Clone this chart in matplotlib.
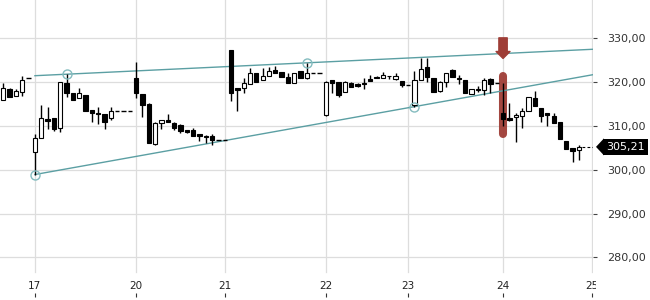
import matplotlib
matplotlib.use('Agg')
import matplotlib.pyplot as plt
import matplotlib.transforms as mtransforms
from matplotlib.patches import Polygon
import numpy as np

# OHLC of each candle, left to right (one candle per trading slot)
opens = [315.9, 318.4, 316.9, 317.8, 320.9, 304.1, 307.2, 311.6, 311.7, 309.5,
         319.9, 317.4, 316.3, 317.1, 313.6, 313.0, 312.7, 311.9, 313.3, 313.3,
         313.3, 321.0, 317.2, 315.0, 305.8, 310.6, 311.3, 310.6, 310.2, 309.0,
         309.1, 308.1, 307.6, 307.8, 306.8, 306.8, 327.3, 318.6, 318.6, 319.5,
         322.0, 320.5, 321.4, 322.8, 322.2, 321.1, 319.9, 322.6, 321.0, 322.0,
         322.0, 312.5, 320.5, 320.1, 317.7, 319.9, 319.5, 319.9, 320.6, 321.2,
         320.9, 321.4, 320.8, 320.3, 319.3, 314.8, 320.5, 323.4, 321.0, 318.0,
         320.0, 322.8, 321.0, 320.5, 317.2, 318.3, 318.2, 320.6, 319.9, 312.9,
         311.9, 312.0, 312.3, 313.5, 316.3, 314.0, 312.9, 312.3, 310.8, 306.6,
         304.9, 304.5]
highs = [319.7, 318.6, 318.4, 321.5, 320.9, 308.1, 314.8, 314.2, 311.9, 320.1,
         321.8, 317.6, 318.6, 317.1, 313.6, 314.2, 312.7, 314.4, 313.3, 313.3,
         313.3, 324.6, 317.2, 315.2, 311.0, 311.3, 312.7, 311.0, 310.4, 309.1,
         309.5, 308.1, 307.9, 308.1, 306.8, 306.8, 327.3, 318.6, 321.0, 323.2,
         322.0, 323.2, 323.5, 323.7, 322.3, 322.1, 322.0, 322.6, 324.4, 322.0,
         322.0, 320.3, 320.5, 320.1, 320.3, 320.1, 319.8, 320.9, 321.6, 321.3,
         322.2, 321.4, 322.0, 320.3, 319.3, 322.5, 325.4, 325.4, 321.0, 320.3,
         322.1, 322.9, 321.6, 320.5, 318.4, 319.0, 320.9, 320.9, 319.9, 319.8,
         315.2, 313.0, 314.0, 316.7, 318.0, 314.0, 312.9, 312.9, 310.8, 306.6,
         304.9, 305.6]
lows = [315.9, 316.5, 316.9, 316.9, 320.9, 298.9, 307.2, 309.2, 308.9, 308.7,
        316.7, 315.8, 316.3, 313.4, 310.8, 310.4, 309.4, 311.3, 313.3, 313.3,
        313.3, 316.3, 312.1, 306.2, 305.6, 309.3, 310.8, 309.1, 308.3, 308.3,
        307.8, 306.6, 306.0, 305.6, 306.8, 306.8, 315.7, 313.5, 317.4, 319.5,
        320.0, 320.5, 321.4, 322.0, 321.1, 319.9, 319.9, 320.9, 320.7, 322.0,
        322.0, 312.3, 317.4, 316.7, 317.7, 318.8, 318.9, 318.4, 320.3, 320.9,
        320.9, 320.6, 320.5, 318.8, 319.3, 314.4, 320.5, 320.1, 317.8, 317.8,
        318.9, 321.1, 319.6, 317.6, 317.2, 317.8, 317.1, 317.4, 319.9, 309.9,
        311.1, 306.4, 309.5, 313.5, 314.6, 311.0, 310.0, 310.7, 306.9, 304.7,
        301.8, 302.2]
closes = [318.7, 316.7, 318.0, 320.4, 320.9, 307.2, 311.7, 311.2, 309.2, 320.0,
          317.6, 315.8, 317.4, 313.4, 313.0, 312.7, 311.0, 313.4, 313.3, 313.3,
          313.3, 317.4, 314.8, 306.2, 310.6, 311.3, 311.0, 309.6, 308.8, 308.5,
          307.8, 307.8, 307.5, 306.8, 306.8, 306.8, 317.4, 318.2, 319.9, 322.0,
          320.0, 321.4, 322.5, 322.1, 321.1, 319.9, 322.0, 320.9, 322.0, 322.0,
          322.0, 320.1, 319.7, 317.1, 320.1, 318.9, 319.1, 319.6, 320.3, 320.9,
          321.6, 321.3, 321.5, 319.3, 319.3, 320.5, 322.9, 321.2, 317.8, 320.1,
          322.0, 321.1, 320.6, 317.6, 318.4, 318.4, 320.5, 319.6, 319.9, 311.5,
          311.3, 312.6, 313.4, 316.7, 314.6, 312.3, 312.5, 310.7, 306.9, 304.7,
          304.3, 305.21]

# x axis: candle index where each day starts
day_pos = [5, 21, 35, 51, 64, 79, 93]
day_labels = ['17', '20', '21', '22', '23', '24', '25']

y_ticks = [280, 290, 300, 310, 320, 330]

# trend line anchors (candle index, price)
upper_pts = [(10, 321.8), (48, 324.4)]
lower_pts = [(5, 298.9), (65, 314.4)]
line_start = 5

# signal candle highlight
signal_idx = 79
signal_range = (308.1, 321.5)
arrow_top, arrow_tip = 330.1, 325.4

last_price = closes[-1]

teal = '#5b9fa3'
grid_c = '#dddddd'
red = '#9e3d36'

fig = plt.figure(figsize=(6.5, 3), dpi=100)
ax = fig.add_axes([0, 3 / 300, 593 / 650, 297 / 300])
ax.set_xlim(-0.522, 93.22)
ax.set_ylim(270.94, 338.74)
for s in ax.spines.values():
    s.set_visible(False)

# grid
ax.set_yticks(y_ticks)
ax.yaxis.grid(True, color=grid_c, lw=0.9)
for p in day_pos:
    ax.axvline(p, ymin=0.085, ymax=1, color=grid_c, lw=0.9, zorder=0)
ax.set_axisbelow(True)

# highlight behind the signal candle
ax.plot([signal_idx, signal_idx], signal_range, color=red, lw=5.8,
        solid_capstyle='round', alpha=0.95, zorder=1)
ax.annotate('', xy=(signal_idx, arrow_tip), xytext=(signal_idx, arrow_top),
            arrowprops=dict(arrowstyle='simple,head_length=0.5,head_width=1.0,tail_width=0.6',
                            color=red, shrinkA=0, shrinkB=0), zorder=5)

# trend lines
xe = ax.get_xlim()[1]
for pts in (upper_pts, lower_pts):
    (x1, y1), (x2, y2) = pts
    k = (y2 - y1) / (x2 - x1)
    xs = np.array([line_start, xe])
    ax.plot(xs, y1 + k * (xs - x1), color=teal, lw=1.0, zorder=2)
    ax.plot([x1, x2], [y1, y2], 'o', ms=6.5, mfc='none', mec='#84bcbf', mew=1.0, zorder=6)

# candles
w = 0.68
for i, (o, h, l, c) in enumerate(zip(opens, highs, lows, closes)):
    if h > max(o, c):
        ax.vlines(i, max(o, c), h, color='black', lw=1.0, zorder=3)
    if l < min(o, c):
        ax.vlines(i, l, min(o, c), color='black', lw=1.0, zorder=3)
    if abs(c - o) < 0.05:
        ax.hlines(o, i - w / 2, i + w / 2, color='black', lw=1.0, zorder=4)
    elif c > o:
        ax.bar(i, c - o, bottom=o, width=w, facecolor='white', edgecolor='black',
               linewidth=0.8, zorder=4)
    else:
        ax.bar(i, o - c, bottom=c, width=w, facecolor='black', edgecolor='black',
               linewidth=0.8, zorder=4)

# last price line and label
n = len(closes)
ax.hlines(last_price, n - 0.5, xe, color='black', lw=0.8, linestyles=(0, (2.5, 2)), zorder=3)
bt = mtransforms.blended_transform_factory(ax.transAxes, ax.transData)
px = 1 / 593
ax.add_patch(Polygon([(1 + 3 * px, last_price), (1 + 11 * px, last_price + 1.95),
                      (1 + 11 * px, last_price - 1.95)], closed=True,
                     facecolor='black', edgecolor='none', transform=bt, clip_on=False))
ax.text(1 + 13 * px, last_price, f"{last_price:.2f}".replace('.', ','), transform=bt,
        ha='left', va='center', color='white', fontsize=8, clip_on=False,
        bbox=dict(boxstyle='square,pad=0.3', facecolor='black', edgecolor='none'))

# right price axis
ax.yaxis.tick_right()
ax.set_yticklabels([f"{v:.2f}".replace('.', ',') for v in y_ticks])
ax.tick_params(axis='y', length=3, width=0.8, color='#444444', pad=7,
               labelsize=8, labelcolor='#333333')

# x axis: small tick marks at the bottom, labels above them
ax.set_xticks(day_pos)
ax.set_xticklabels([])
ax.tick_params(axis='x', direction='in', length=3, width=0.8, color='#333333')
clip = mtransforms.TransformedBbox(mtransforms.Bbox([[0, 0], [5.96, 3]]), fig.dpi_scale_trans)
xt = mtransforms.blended_transform_factory(ax.transData, ax.transAxes)
for p, lab in zip(day_pos, day_labels):
    t = ax.text(p, 0.037, lab, transform=xt, ha='center', va='center',
                fontsize=7.5, color='#222222', clip_on=True)
    t.set_clip_box(clip)

fig.savefig('out.png', dpi=100)
